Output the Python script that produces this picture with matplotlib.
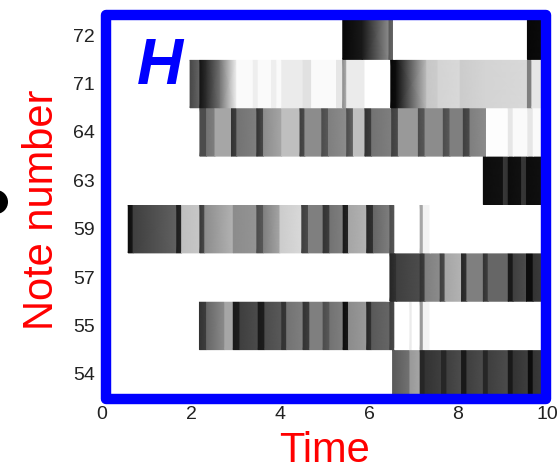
import numpy as np
import matplotlib
matplotlib.use("Agg")
import matplotlib.pyplot as plt
from matplotlib.patches import Rectangle, Ellipse

# Note rows, bottom to top, and time ticks
notes = [54, 55, 57, 59, 63, 64, 71, 72]
x_ticks = [0, 2, 4, 6, 8, 10]
t_max = 10

# Activation segments per note: (start time, end time, shade at start, shade at end)
# shade 0 = no activation (white), 1 = full activation (black)
act_72 = [(5.41, 5.85, 0.97, 0.90), (5.85, 6.45, 0.90, 0.45), (6.45, 6.55, 0.65, 0.60),
          (9.56, 10.0, 0.97, 0.95)]

act_71 = [(1.98, 2.20, 0.72, 0.60), (2.20, 2.35, 0.92, 0.82), (2.35, 2.65, 0.82, 0.55),
          (2.65, 3.03, 0.55, 0.05), (3.03, 3.40, 0.02, 0.02), (3.40, 3.51, 0.07, 0.07),
          (3.51, 3.81, 0.02, 0.02), (3.81, 3.93, 0.07, 0.07), (3.93, 4.04, 0.02, 0.02),
          (4.04, 4.52, 0.08, 0.08), (4.52, 4.71, 0.12, 0.12), (4.71, 5.27, 0.02, 0.02),
          (5.27, 5.41, 0.10, 0.10), (5.41, 5.50, 0.45, 0.30), (5.50, 5.91, 0.08, 0.08),
          (6.49, 6.60, 0.97, 0.95), (6.60, 7.30, 0.95, 0.25), (7.30, 7.55, 0.22, 0.20),
          (7.55, 8.05, 0.17, 0.15), (8.05, 8.60, 0.20, 0.17), (8.60, 9.56, 0.17, 0.15),
          (9.56, 9.66, 0.50, 0.50), (9.66, 10.0, 0.10, 0.10)]

act_64 = [(2.20, 2.35, 0.70, 0.70), (2.35, 2.54, 0.55, 0.50), (2.54, 2.91, 0.35, 0.35),
          (2.91, 3.03, 0.80, 0.75), (3.03, 3.48, 0.55, 0.50), (3.48, 3.63, 0.80, 0.70),
          (3.63, 4.04, 0.45, 0.35), (4.04, 4.45, 0.25, 0.25), (4.45, 4.56, 0.75, 0.70),
          (4.56, 4.94, 0.45, 0.45), (4.94, 5.09, 0.70, 0.65), (5.09, 5.50, 0.50, 0.45),
          (5.50, 5.65, 0.70, 0.60), (5.65, 5.91, 0.25, 0.25), (5.91, 6.06, 0.80, 0.75),
          (6.06, 6.51, 0.55, 0.50), (6.51, 6.66, 0.75, 0.70), (6.66, 7.11, 0.40, 0.40),
          (7.11, 7.26, 0.70, 0.65), (7.26, 7.67, 0.45, 0.45), (7.67, 7.82, 0.70, 0.65),
          (7.82, 8.12, 0.50, 0.50), (8.12, 8.27, 0.75, 0.70), (8.27, 8.64, 0.50, 0.45),
          (8.64, 9.13, 0.01, 0.01), (9.13, 9.24, 0.10, 0.10), (9.24, 9.57, 0.02, 0.02),
          (9.57, 9.69, 0.10, 0.10), (9.69, 10.0, 0.02, 0.02)]

act_63 = [(8.57, 9.02, 0.95, 0.93), (9.02, 9.13, 0.78, 0.80), (9.13, 9.43, 0.95, 0.93),
          (9.43, 9.54, 0.78, 0.80), (9.54, 10.0, 0.95, 0.93)]

act_59 = [(0.59, 0.70, 0.95, 0.90), (0.70, 1.68, 0.75, 0.62), (1.68, 1.79, 0.88, 0.85),
          (1.79, 2.20, 0.25, 0.22), (2.20, 2.31, 0.78, 0.70), (2.31, 2.95, 0.45, 0.30),
          (2.95, 3.48, 0.45, 0.42), (3.48, 3.63, 0.70, 0.65), (3.63, 4.00, 0.50, 0.35),
          (4.00, 4.49, 0.20, 0.15), (4.49, 4.64, 0.75, 0.70), (4.64, 4.97, 0.50, 0.50),
          (4.97, 5.12, 0.80, 0.75), (5.12, 5.42, 0.55, 0.50), (5.42, 5.54, 0.90, 0.85),
          (5.54, 5.95, 0.35, 0.30), (5.95, 6.10, 0.85, 0.80), (6.10, 6.47, 0.60, 0.50),
          (6.47, 6.58, 0.70, 0.65), (7.15, 7.22, 0.35, 0.35), (7.22, 7.37, 0.05, 0.05)]

act_57 = [(6.47, 6.62, 0.85, 0.80), (6.62, 7.15, 0.75, 0.70), (7.15, 7.26, 0.80, 0.75),
          (7.26, 7.60, 0.50, 0.45), (7.60, 7.71, 0.75, 0.70), (7.71, 8.08, 0.35, 0.30),
          (8.08, 8.20, 0.85, 0.80), (8.20, 8.57, 0.50, 0.50), (8.57, 8.68, 0.80, 0.75),
          (8.68, 9.13, 0.60, 0.60), (9.13, 9.24, 0.90, 0.90), (9.24, 9.54, 0.75, 0.70),
          (9.54, 9.69, 0.95, 0.95), (9.69, 10.0, 0.80, 0.75)]

act_55 = [(2.19, 2.35, 0.80, 0.75), (2.35, 2.76, 0.60, 0.45), (2.76, 2.95, 0.35, 0.35),
          (2.95, 3.10, 0.90, 0.88), (3.10, 3.51, 0.75, 0.70), (3.51, 3.66, 0.90, 0.88),
          (3.66, 4.04, 0.70, 0.65), (4.04, 4.15, 0.80, 0.78), (4.15, 4.52, 0.55, 0.50),
          (4.52, 4.67, 0.80, 0.75), (4.67, 4.97, 0.50, 0.50), (4.97, 5.12, 0.70, 0.65),
          (5.12, 5.42, 0.55, 0.50), (5.42, 5.54, 0.95, 0.90), (5.54, 5.95, 0.45, 0.40),
          (5.95, 6.06, 0.85, 0.80), (6.06, 6.47, 0.65, 0.60), (6.47, 6.58, 0.75, 0.70),
          (6.92, 6.97, 0.08, 0.08), (7.15, 7.22, 0.40, 0.40), (7.22, 7.37, 0.05, 0.05)]

act_54 = [(6.53, 6.92, 0.65, 0.55), (6.92, 7.15, 0.40, 0.35), (7.15, 7.26, 0.85, 0.85),
          (7.26, 7.63, 0.80, 0.75), (7.63, 7.75, 0.85, 0.85), (7.75, 8.08, 0.75, 0.70),
          (8.08, 8.20, 0.90, 0.90), (8.20, 8.57, 0.75, 0.70), (8.57, 8.68, 0.85, 0.85),
          (8.68, 9.13, 0.75, 0.70), (9.13, 9.24, 0.90, 0.90), (9.24, 9.58, 0.80, 0.75),
          (9.58, 9.69, 0.95, 0.95), (9.69, 10.0, 0.80, 0.75)]

activations = {54: act_54, 55: act_55, 57: act_57, 59: act_59,
               63: act_63, 64: act_64, 71: act_71, 72: act_72}

W, H = 559, 470
plt.rcParams['font.family'] = ['Liberation Sans', 'DejaVu Sans']
fig = plt.figure(figsize=(W / 100, H / 100), dpi=100)
ax = fig.add_axes([102 / W, 1 - 398 / H, 445 / W, 387 / H])

for row, note in enumerate(notes):
    xs, cs = [], []
    t_prev = 0.0
    for t0, t1, v0, v1 in activations[note]:
        if t0 > t_prev:
            xs += [t_prev, t0]
            cs += [0.0, 0.0]
        xs += [t0, t1]
        cs += [v0, v1]
        t_prev = t1
    if t_prev < t_max:
        xs += [t_prev, t_max]
        cs += [0.0, 0.0]
    X = np.array(xs)
    Y = np.array([row - 0.5, row + 0.5])
    C = np.array([cs, cs])
    ax.pcolormesh(X, Y, C, shading='gouraud', cmap='gray_r', vmin=0, vmax=1)

ax.set_xlim(0, t_max)
ax.set_ylim(-0.5, len(notes) - 0.5)
ax.set_xticks(x_ticks)
ax.set_xticklabels([str(t) for t in x_ticks])
ax.set_yticks(range(len(notes)))
ax.set_yticklabels([str(n) for n in notes])
for s in ax.spines.values():
    s.set_visible(False)
ax.tick_params(axis='both', length=0, labelsize=14, labelcolor='#222222')
ax.tick_params(axis='x', pad=6)
ax.tick_params(axis='y', pad=5)

# Blue panel frame with rounded corners
frame = Rectangle((0.008, -0.003), 0.990, 0.993, transform=ax.transAxes, fill=False,
                  edgecolor='#0000ff', linewidth=7.5, joinstyle='round',
                  clip_on=False, zorder=10)
ax.add_patch(frame)

# Panel letter
fig.text(160 / W, 1 - 84 / H, 'H', color='#0000ff', fontsize=46, fontweight='bold',
         fontstyle='italic', ha='center', va='baseline')

# Axis titles
fig.text(53 / W, 1 - 210 / H, 'Note number', color='red', fontsize=30, rotation=90,
         rotation_mode='anchor', ha='center', va='baseline')
fig.text(324 / W, 1 - 462 / H, 'Time', color='red', fontsize=30, ha='center', va='baseline')

# Bullet marker at the left edge
fig.add_artist(Ellipse((-4 / W, 1 - 202 / H), 24 / W, 24 / H, transform=fig.transFigure,
                       facecolor='black', edgecolor='none', clip_on=False))

fig.savefig('out.png', dpi=100)
